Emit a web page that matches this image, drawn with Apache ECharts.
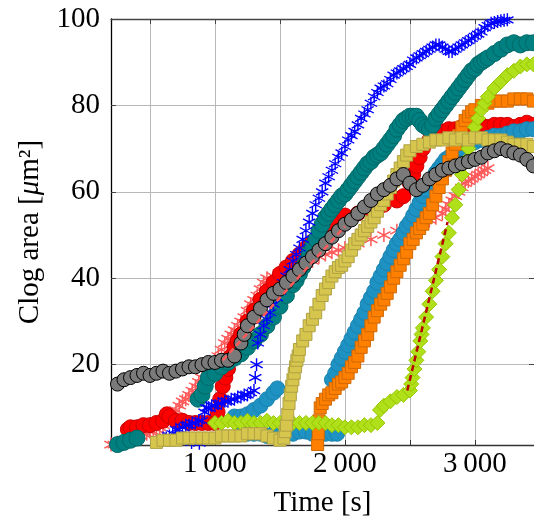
<!DOCTYPE html>
<html>
<head>
<meta charset="utf-8">
<script src="https://cdn.jsdelivr.net/npm/echarts@6/dist/echarts.min.js"></script>
<style>
  html, body { margin: 0; padding: 0; background: #fff; }
  #main { width: 534px; height: 523px; }
</style>
</head>
<body>
<div id="main"></div>
<script>
// ticks / labels
var xTicks = [500, 1000, 1500, 2000, 2500, 3000];
var xLabels = [1000, 2000, 3000];
var yTicks = [20, 40, 60, 80, 100];

// [time s, clog area um2]
var salmonStar = [[200,1.5],[225,1.5],[250,2],[275,2],[300,2.5],[325,2.5],[350,3],[375,3],[400,3.5],[425,3.5],[450,4],[475,4],[500,4.5],[525,4.5],[550,5],[575,5.5],[600,6],[625,7],[650,8],[675,8.5],[700,9.5],[725,10.5],[750,11.5],[775,12],[800,13],[825,14],[850,15],[875,16],[900,17],[925,18],[950,19],[975,20],[1000,21],[1025,22],[1050,23.5],[1075,25],[1100,26],[1125,27],[1150,28],[1175,29],[1200,30],[1225,31],[1250,32.5],[1275,34],[1300,35],[1325,36],[1350,37.5],[1375,39],[1400,40],[1450,40.5],[1500,41],[1550,41.5],[1600,42],[1650,43],[1700,43.5],[1750,44],[1800,45],[1850,45.5],[1900,46],[1950,46.5],[2000,47],[2100,48],[2200,49],[2300,50],[2400,51],[2500,52],[2550,52],[2600,52.5],[2650,53.5],[2700,54],[2750,55],[2775,56],[2800,57],[2825,58],[2850,59],[2875,60],[2900,61],[2925,62],[2950,62.5],[2975,63],[3000,63.5],[3025,64],[3050,64.5],[3075,65],[3100,65.5]];
var redCircle = [[330,5],[350,5.5],[400,5.5],[450,6],[500,6],[550,6.5],[600,7],[630,8.5],[650,8],[700,7],[750,7],[800,6.5],[850,6.5],[900,6.5],[950,6.5],[1000,6.5],[1020,9],[1040,12],[1060,15],[1080,17],[1100,19],[1125,22],[1150,24],[1175,25.5],[1200,27],[1250,30],[1300,32.5],[1350,35],[1400,37],[1450,39],[1500,41],[1550,42.5],[1600,44],[1650,45.5],[1700,47],[1750,48.5],[1800,50],[1850,51.5],[1900,52.5],[1950,53.5],[2000,54.5],[2100,55],[2200,56],[2300,57],[2400,58],[2450,59],[2500,62],[2525,64],[2550,66],[2575,68],[2600,70],[2650,72],[2700,73],[2750,74],[2800,74.5],[2850,74.5],[2900,75],[2950,75],[3000,75],[3050,75.5],[3100,75],[3150,75.5],[3200,75.5],[3250,75.5],[3300,75],[3350,75.5],[3400,76],[3450,75.5]];
var tealCircle = [[250,1.5],[300,2],[350,2.5],[400,3],[870,12],[900,13],[925,15],[950,17],[1000,18],[1050,19.5],[1100,20.5],[1150,21.5],[1200,22.5],[1250,24],[1300,25.5],[1350,27],[1400,29],[1450,31],[1500,33.5],[1550,36],[1600,38.5],[1625,39.5],[1650,41],[1675,42.5],[1700,44],[1725,46],[1750,47.5],[1775,49],[1800,51],[1825,52.5],[1850,54],[1875,55],[1900,56],[1925,57],[1950,58],[1975,59],[2000,59.5],[2025,60.5],[2050,61.5],[2075,62.5],[2100,63.5],[2125,64.5],[2150,65.5],[2175,66.5],[2200,67],[2225,68],[2250,68.5],[2275,69],[2300,70],[2325,71],[2350,72],[2375,73],[2400,74.5],[2425,75.5],[2450,76.5],[2475,77],[2500,77.5],[2525,77.5],[2550,77.5],[2575,76.5],[2600,75.5],[2625,75],[2650,74.5],[2675,75.5],[2700,77],[2725,78],[2750,79],[2775,80],[2800,81],[2825,82],[2850,83],[2875,84],[2900,85],[2925,86],[2950,87],[2975,88],[3000,88.5],[3025,89.5],[3050,90],[3075,90.5],[3100,91],[3150,92],[3200,93],[3250,94],[3300,94.5],[3350,94],[3400,94.5],[3450,94.5]];
var blueStar = [[600,3],[625,3],[650,3.5],[675,4],[700,5],[725,5],[750,5.5],[775,6],[800,6],[825,6.5],[850,6.5],[875,7],[900,7],[820,2],[880,1.8],[920,9],[935,10],[950,10],[975,10.5],[1000,10.5],[1025,11],[1050,11],[1075,11.5],[1100,11.5],[1125,12],[1150,12],[1175,12.5],[1200,12.5],[1225,13],[1250,13],[1275,13.5],[1300,14],[1310,17],[1320,20],[1330,25],[1350,27],[1375,29],[1400,30.5],[1425,32],[1450,34],[1475,35.5],[1500,37],[1525,39],[1550,40.5],[1575,42],[1600,44],[1625,45.5],[1650,47],[1675,49],[1700,51],[1725,53],[1750,55],[1775,57],[1800,58.5],[1825,60],[1850,62],[1875,63.5],[1900,65],[1925,66.5],[1950,68],[1975,69],[2000,70.5],[2025,72],[2050,73],[2075,74],[2100,75.5],[2125,77],[2150,78],[2175,79],[2200,80.5],[2225,82],[2250,83],[2275,84],[2300,84.5],[2325,85],[2350,86],[2375,87],[2400,87.5],[2425,88],[2450,88.5],[2475,89],[2500,89.5],[2525,90.5],[2550,91],[2575,91.5],[2600,92],[2625,92.5],[2650,93],[2675,93.5],[2700,94],[2725,94],[2750,93.5],[2775,93],[2800,92.5],[2825,92.5],[2850,93],[2875,93.5],[2900,94],[2925,94.5],[2950,95],[2975,95.5],[3000,96],[3025,96.5],[3050,97],[3075,98],[3100,98.5],[3125,99],[3150,99.2],[3175,99.4],[3200,99.6],[3225,99.7],[3250,99.8]];
var cyanCircle = [[1150,8],[1200,8],[1250,8.5],[1300,9.5],[1350,10.5],[1400,12],[1450,13.5],[1480,14.5],[1200,4],[1250,4],[1300,4],[1350,4],[1400,3.5],[1450,4],[1500,4],[1550,4],[1600,4],[1650,4.5],[1700,4.5],[1750,4],[1800,4],[1850,4],[1900,4],[1940,4],[1900,16.5],[1925,18],[1950,20],[1975,21.5],[2000,23],[2025,24.5],[2050,26],[2075,27.5],[2100,29],[2125,30.5],[2150,32],[2175,34],[2200,35.5],[2225,37],[2250,39],[2275,40.5],[2300,42],[2325,43.5],[2350,45],[2375,46.5],[2400,48],[2425,49],[2450,50.5],[2475,52],[2500,53],[2525,54.5],[2550,56],[2575,57.5],[2600,59],[2625,60.5],[2650,62],[2675,63],[2700,64.5],[2725,65.5],[2750,66.5],[2775,67.5],[2800,68],[2850,69],[2900,70],[2950,71],[3000,71.5],[3050,72],[3100,72.5],[3150,73],[3200,73],[3250,73.5],[3300,74],[3350,74],[3400,74.5],[3450,74.5]];
var orangeSquare = [[1790,1.5],[1795,4],[1800,7],[1810,10],[1825,11],[1850,12],[1875,13],[1900,13.5],[1925,14.5],[1950,15.5],[1975,16],[2000,17],[2025,18],[2050,19.5],[2075,20.5],[2100,22],[2125,24],[2150,25.5],[2175,27],[2200,29],[2225,31],[2250,32.5],[2275,34],[2300,35],[2325,36.5],[2350,38],[2375,40],[2400,41.5],[2425,43],[2450,44.5],[2475,46],[2500,48],[2525,49],[2550,50.5],[2575,51.5],[2600,52.5],[2625,54],[2650,55],[2675,57],[2700,59],[2725,61],[2750,63],[2775,65],[2800,67],[2825,69],[2850,71],[2875,73],[2900,75],[2925,76.5],[2950,77.5],[2975,78.5],[3000,79],[3050,80],[3100,80.5],[3150,81],[3200,81],[3250,81],[3300,81.5],[3350,81.5],[3400,81.5],[3450,81]];
var limeDiamond = [[1000,6.5],[1050,6.5],[1100,7],[1150,6.5],[1200,6.5],[1250,7],[1300,6.5],[1350,6.5],[1400,7],[1450,6.5],[1500,6.5],[1550,7],[1600,6.5],[1650,6.5],[1700,6.5],[1750,6.5],[1800,6.5],[1850,6.5],[1900,6],[1950,6],[2000,5.5],[2050,5.5],[2100,5.5],[2150,6],[2200,6],[2250,6.5],[2270,9.5],[2300,10.5],[2350,11.5],[2400,12.5],[2450,13],[2500,14],[2510,15.5],[2520,17],[2535,19],[2550,21],[2565,23],[2580,25.5],[2590,27],[2600,28.5],[2625,31],[2650,34],[2675,37],[2700,39.5],[2725,42],[2750,45],[2775,48],[2800,50.5],[2825,54],[2850,57],[2875,60.5],[2900,64],[2925,67],[2950,70],[2975,72.5],[3000,75],[3025,77],[3050,79],[3075,80.5],[3100,82],[3150,84],[3200,85.5],[3250,87],[3300,88],[3350,89],[3400,89.5],[3450,89.5]];
var oliveSquare = [[550,2],[600,2.5],[650,2.5],[700,2.5],[750,3],[800,3],[850,3],[900,3],[950,3],[1000,3],[1050,3.5],[1100,3.5],[1150,3.5],[1200,3.5],[1250,4],[1300,4],[1350,4],[1400,3.5],[1450,3],[1500,2.5],[1530,3],[1540,4.5],[1550,6],[1560,8.5],[1570,11],[1580,13],[1590,15],[1600,16.5],[1610,18],[1620,19.5],[1630,21],[1640,22],[1650,23.5],[1675,25.5],[1700,27],[1725,29],[1750,30.5],[1775,32],[1800,34],[1825,36],[1850,37.5],[1875,39],[1900,40.5],[1925,41.5],[1950,42.5],[1975,43],[2000,44],[2025,45],[2050,46.5],[2075,48],[2100,49],[2125,50],[2150,51],[2175,52],[2200,53],[2225,54],[2250,55.5],[2275,57],[2300,58],[2325,59.5],[2350,61],[2375,62.5],[2400,64],[2425,65.5],[2450,67],[2475,68.5],[2500,69.5],[2550,70.5],[2600,71],[2650,71.5],[2700,72],[2750,72],[2800,72.5],[2850,72],[2900,72.5],[2950,72],[3000,72.5],[3050,72.5],[3100,72],[3150,72],[3200,72],[3250,71.5],[3300,71],[3350,71],[3400,71],[3450,70.5]];
var greyCircle = [[250,15.5],[300,16.5],[350,17],[400,17.5],[450,18],[500,17.5],[550,18],[600,18.5],[650,18],[700,18.5],[750,19],[800,19.5],[850,19.5],[900,20],[950,20.5],[1000,20.5],[1050,21],[1100,21],[1150,22],[1200,25],[1225,27],[1250,29],[1300,31],[1350,33],[1400,35],[1450,36.5],[1500,37.5],[1550,39],[1600,40.5],[1650,42],[1700,43.5],[1750,45],[1800,46.5],[1850,48],[1900,49.5],[1950,51],[2000,52.5],[2050,53.5],[2100,55],[2150,56.5],[2200,58],[2250,59.5],[2300,60.5],[2350,61.5],[2400,63],[2450,64],[2500,62],[2550,60.5],[2600,61.5],[2650,63],[2700,64],[2750,65],[2800,65.5],[2850,66],[2900,66.5],[2950,67],[3000,67.5],[3050,68],[3100,69],[3150,69.5],[3200,70],[3250,69.5],[3300,69],[3350,68.5],[3400,67.5],[3450,66]];
// dashed fit lines
var greyFit = [[1060,21],[2000,52]];
var limeFit = [[2480,14],[2790,53]];

var font = 'Liberation Serif';
// six-armed asterisk marker
var star = 'path://M-1,-10L1,-10L1,10L-1,10Z M8.16,-5.87L9.16,-4.13L-8.16,5.87L-9.16,4.13Z M-9.16,-4.13L-8.16,-5.87L9.16,4.13L8.16,5.87Z';

function fmtX(v) {
  var s = String(v);
  return s.length > 3 ? s.slice(0, s.length - 3) + '\u2009' + s.slice(-3) : s;
}

function marks(name, data, symbol, size, fill, edge, z) {
  return {
    name: name, type: 'scatter', data: data, symbol: symbol, symbolSize: size, z: z,
    itemStyle: { color: fill, borderColor: edge, borderWidth: edge ? 1 : 0, opacity: 1 },
    emphasis: { disabled: true }
  };
}

var myChart = echarts.init(document.getElementById('main'), null, { renderer: 'canvas' });
myChart.setOption({
  animation: false,
  textStyle: { fontFamily: font },
  grid: { left: 111, top: 19, right: 0, bottom: 75 },
  xAxis: [{
    type: 'value', min: 200, max: 3455,
    name: 'Time [s]', nameLocation: 'middle', nameGap: 44,
    nameTextStyle: { fontFamily: font, fontSize: 29, color: '#000' },
    axisLine: { onZero: false, lineStyle: { color: '#333', width: 1.3 } },
    axisTick: { inside: true, length: 5, customValues: xTicks, lineStyle: { color: '#333' } },
    axisLabel: { customValues: xLabels, formatter: fmtX, margin: 5, fontFamily: font, fontSize: 29, color: '#000' },
    splitLine: { show: true, lineStyle: { color: '#b8b8b8', width: 1 } }
  }, {
    type: 'value', min: 200, max: 3455, position: 'top',
    axisLine: { onZero: false, lineStyle: { color: '#444', width: 1.3 } },
    axisTick: { inside: true, length: 5, customValues: xTicks, lineStyle: { color: '#444' } },
    axisLabel: { show: false },
    splitLine: { show: false }
  }],
  yAxis: [{
    type: 'value', min: 1.4, max: 100,
    name: 'Clog area [{it|μ}m²]', nameLocation: 'middle', nameGap: 66, nameRotate: 90,
    nameTextStyle: { fontFamily: font, fontSize: 29, color: '#000',
      rich: { it: { fontFamily: font, fontSize: 29, fontStyle: 'italic', color: '#000' } } },
    axisLine: { onZero: false, lineStyle: { color: '#000', width: 1.3 } },
    axisTick: { inside: true, length: 5, customValues: yTicks, lineStyle: { color: '#444' } },
    axisLabel: { customValues: yTicks, margin: 11, fontFamily: font, fontSize: 29, color: '#000' },
    splitLine: { show: true, lineStyle: { color: '#b8b8b8', width: 1 } }
  }, {
    type: 'value', min: 1.4, max: 100, position: 'right',
    axisLine: { show: false },
    axisTick: { inside: true, length: 5, customValues: yTicks, lineStyle: { color: '#444' } },
    axisLabel: { show: false },
    splitLine: { show: false }
  }],
  series: [
    marks('salmon', salmonStar, star, 14, '#ff5a5a', null, 2),
    marks('red', redCircle, 'circle', 15, '#ff0000', '#c80000', 3),
    marks('teal', tealCircle, 'circle', 16, '#008080', '#006868', 4),
    marks('blue', blueStar, star, 13, '#0000ff', null, 5),
    marks('cyan', cyanCircle, 'circle', 15, '#1e92c2', '#1a82ae', 6),
    marks('orange', orangeSquare, 'rect', 12, '#ff8000', '#d06800', 7),
    marks('lime', limeDiamond, 'diamond', 15, '#b0e01a', '#96c400', 8),
    marks('olive', oliveSquare, 'rect', 12, '#d6c64e', '#b0a244', 9),
    marks('grey', greyCircle, 'circle', 14, '#7a7a7a', '#000000', 10),
    {
      name: 'grey fit', type: 'line', data: greyFit, symbol: 'none', z: 11,
      lineStyle: { color: '#ff5a5a', width: 2.5, type: [6, 4] }
    },
    {
      name: 'lime fit', type: 'line', data: limeFit, symbol: 'none', z: 11,
      lineStyle: { color: '#b80000', width: 2.5, type: [6, 4] }
    }
  ]
});
</script>
</body>
</html>
